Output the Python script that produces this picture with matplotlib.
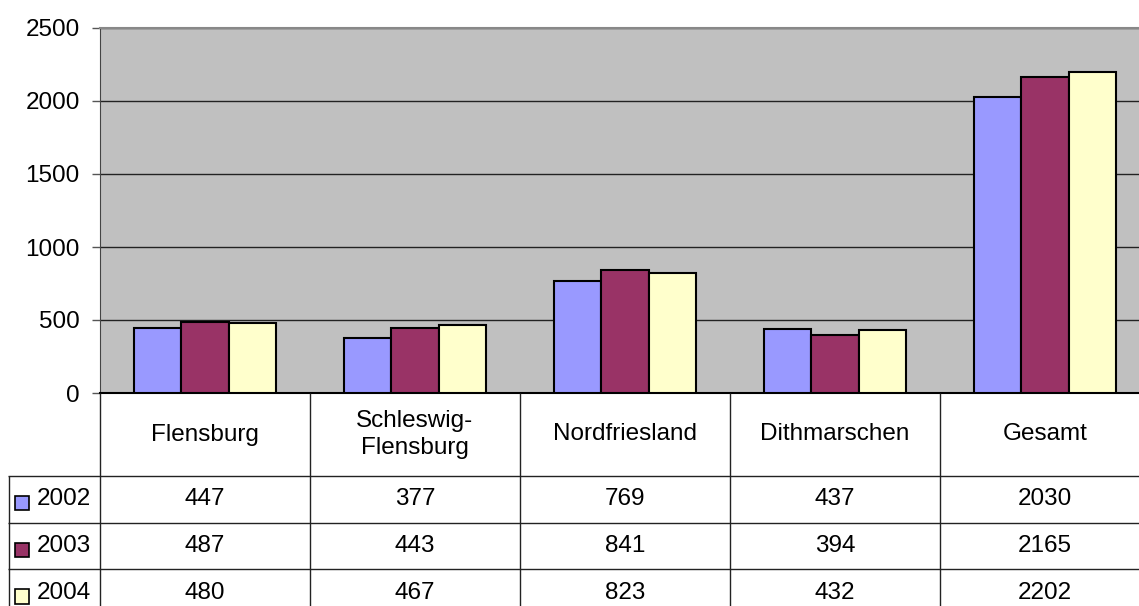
import matplotlib.pyplot as plt
from matplotlib.patches import Rectangle

plt.rcParams['font.family'] = ['Liberation Sans', 'DejaVu Sans']

# Daten
kategorien = ['Flensburg', 'Schleswig-\nFlensburg', 'Nordfriesland', 'Dithmarschen', 'Gesamt']
jahre = ['2002', '2003', '2004']
werte_2002 = [447, 377, 769, 437, 2030]
werte_2003 = [487, 443, 841, 394, 2165]
werte_2004 = [480, 467, 823, 432, 2202]
serien = [werte_2002, werte_2003, werte_2004]
farben = ['#9999FF', '#993366', '#FFFFCC']

W, H = 1139, 606
fig = plt.figure(figsize=(W / 100, H / 100), dpi=100)
fs = 17.5

# Diagrammbereich (rechts etwas über den Bildrand hinaus wie im Original)
cat_px = 210
ax = fig.add_axes([100 / W, (H - 393) / H, 5 * cat_px / W, 365 / H])
ax.set_facecolor('#C0C0C0')
x = list(range(len(kategorien)))
breite = 0.224
for i, (werte, farbe) in enumerate(zip(serien, farben)):
    pos = [xi + (i - 1) * breite for xi in x]
    ax.bar(pos, werte, width=breite, color=farbe, edgecolor='black', linewidth=1.5, zorder=3)

ax.set_xlim(-0.5, 4.5)
ax.set_ylim(0, 2500)
ax.set_yticks([0, 500, 1000, 1500, 2000, 2500])
ax.set_xticks([])
ax.tick_params(axis='y', direction='out', length=6, width=1, color='#555555',
               labelsize=fs, pad=8.5)
ax.yaxis.grid(True, color='#222222', linewidth=1)
ax.set_axisbelow(True)
ax.spines['right'].set_visible(False)
ax.spines['top'].set_color('#888888')
ax.spines['top'].set_linewidth(1.5)
ax.spines['left'].set_color('#444444')
ax.spines['bottom'].set_color('black')
ax.spines['bottom'].set_linewidth(1.5)

# Datentabelle unter dem Diagramm
kopf_h = 83
zeile_h = 46.7
gesamt_h = kopf_h + 3 * zeile_h
links = -0.5 - 92 / cat_px
tax = fig.add_axes([8 / W, (H - 393 - gesamt_h) / H, (92 + 5 * cat_px) / W, gesamt_h / H])
tax.set_xlim(links, 4.5)
tax.set_ylim(gesamt_h, 0)
tax.axis('off')

lc = '#222222'
# senkrechte Linien
for b in [-0.5, 0.5, 1.5, 2.5, 3.5]:
    tax.vlines(b, 0, gesamt_h, color=lc, linewidth=1)
tax.vlines(links + 0.5 / cat_px, kopf_h, gesamt_h, color=lc, linewidth=1)
# waagerechte Linien
for r in range(3):
    tax.hlines(kopf_h + r * zeile_h, links, 4.5, color=lc, linewidth=1)

# Kopfzeile
for xi, k in zip(x, kategorien):
    tax.text(xi, kopf_h / 2, k, ha='center', va='center', fontsize=fs, linespacing=1.25)

# Zeilen
for r, (jahr, werte, farbe) in enumerate(zip(jahre, serien, farben)):
    yc = kopf_h + (r + 0.5) * zeile_h
    tax.add_patch(Rectangle((links + 7 / cat_px, yc - 3.5), 14 / cat_px, 14.5,
                            facecolor=farbe, edgecolor='black', linewidth=1.2))
    tax.text(links + 29 / cat_px, yc, jahr, ha='left', va='center', fontsize=fs)
    for xi, v in zip(x, werte):
        tax.text(xi, yc, str(v), ha='center', va='center', fontsize=fs)

fig.savefig('out.png', dpi=100)
